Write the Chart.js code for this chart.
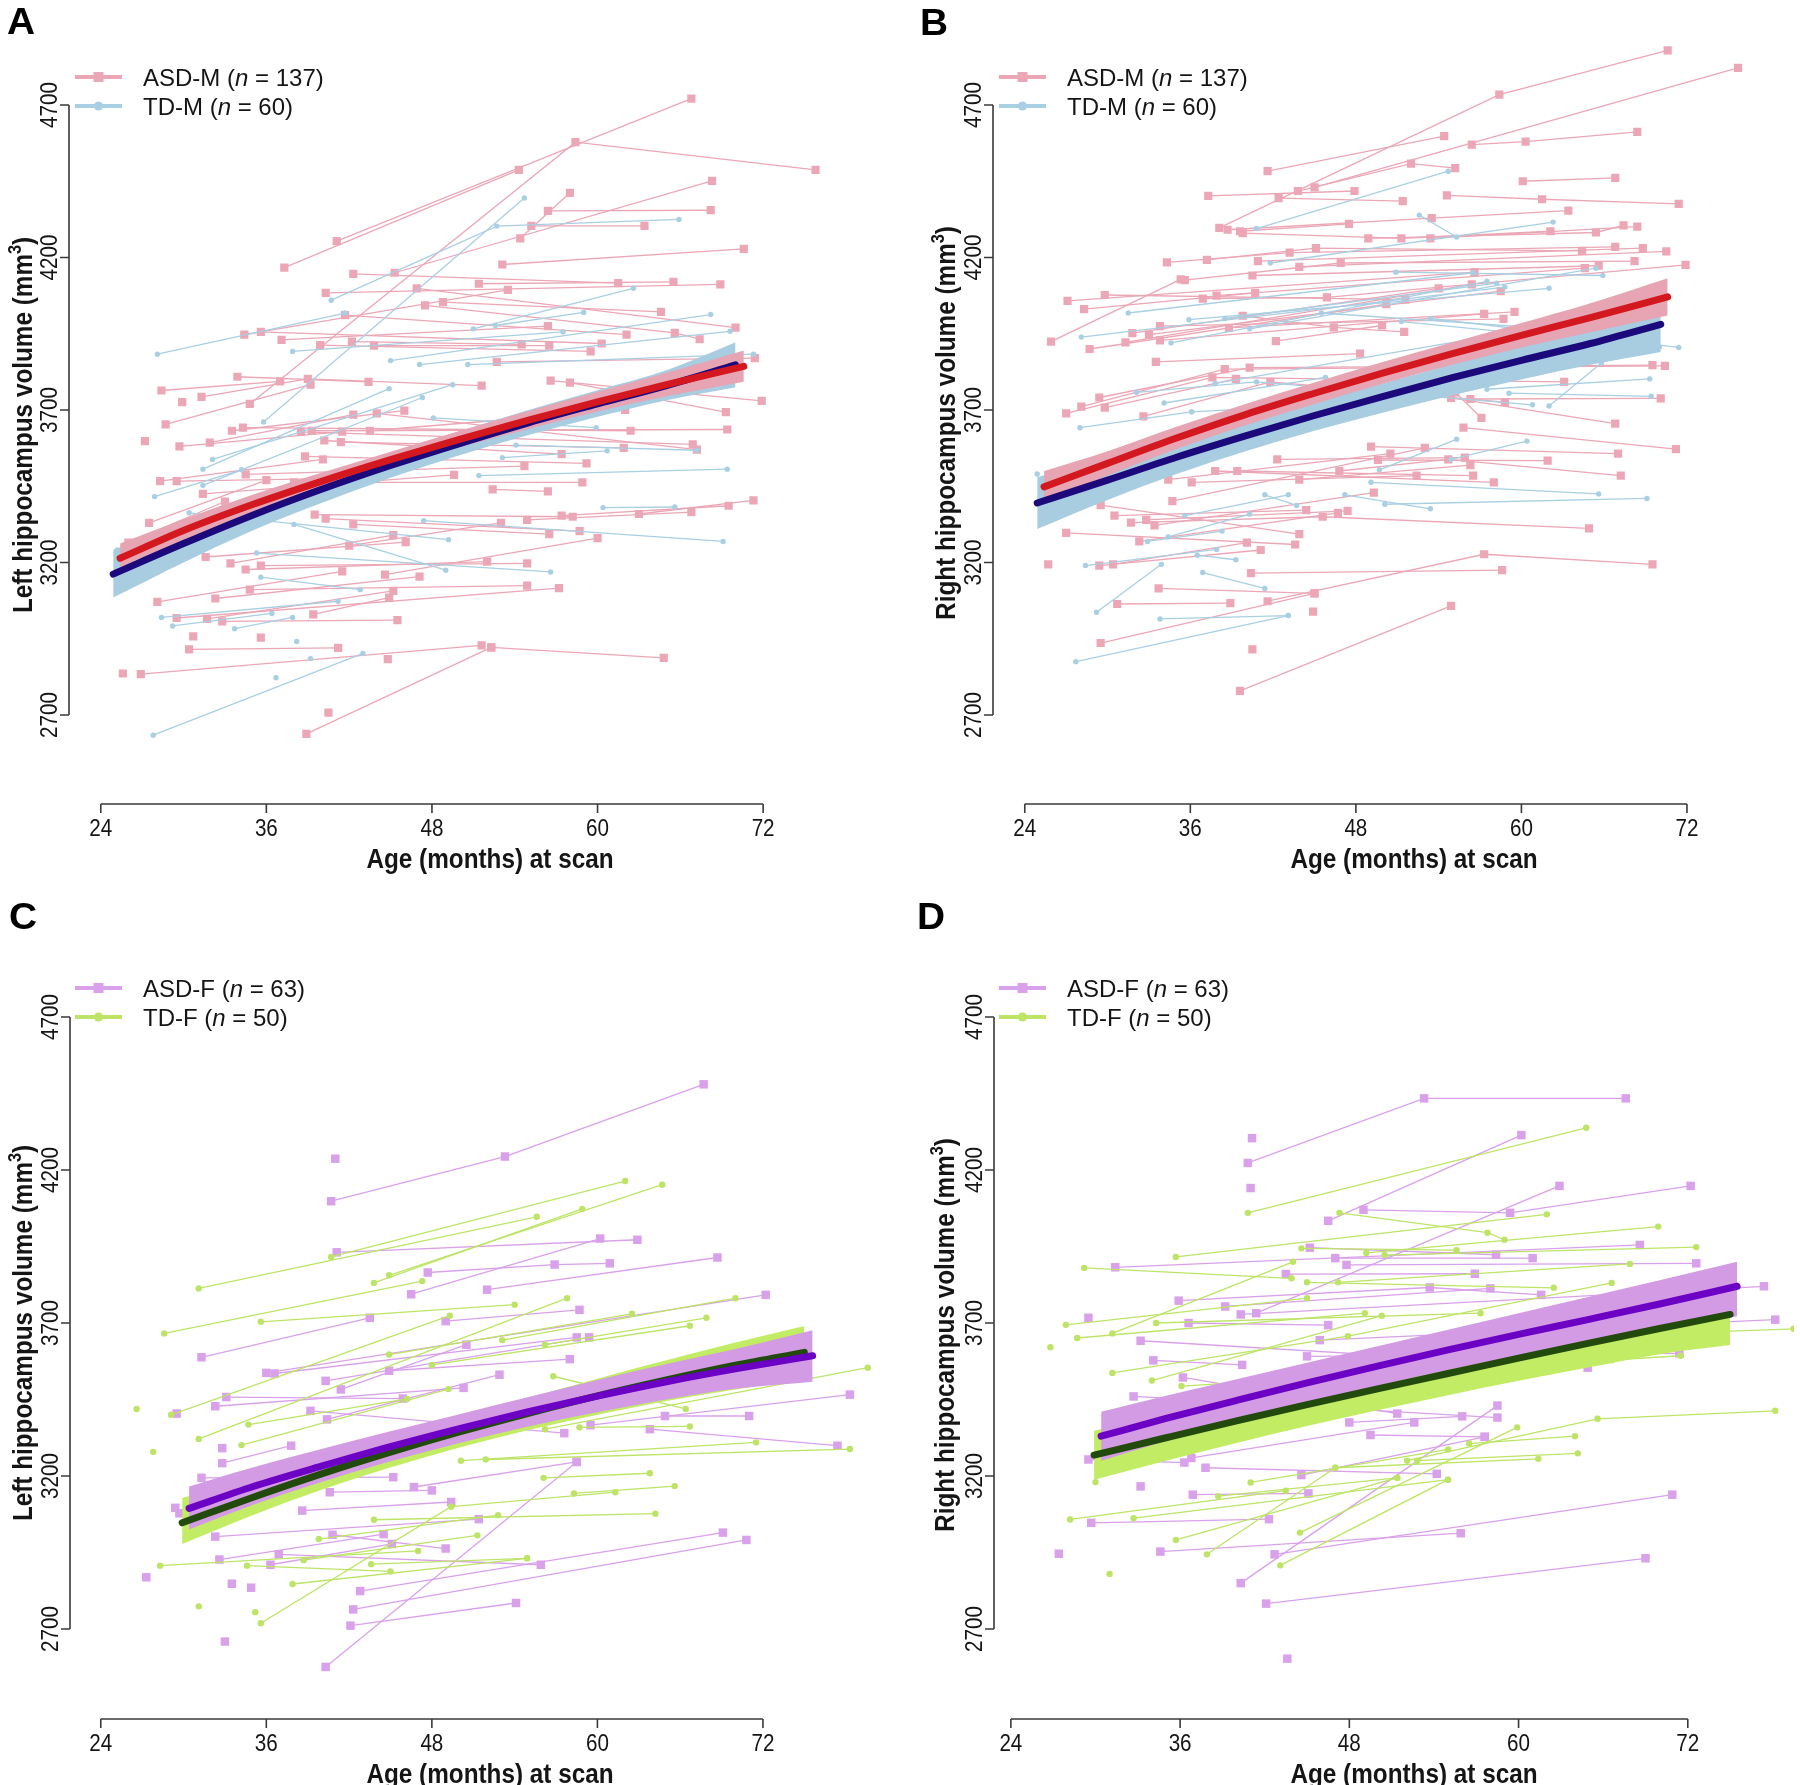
<!DOCTYPE html>
<html>
<head>
<meta charset="utf-8">
<script src="https://cdn.jsdelivr.net/npm/chart.js@4.4.1/dist/chart.umd.min.js"></script>
<style>
  html, body { margin: 0; padding: 0; background: #fff; }
  #wrap { position: relative; width: 1800px; height: 1785px; overflow: hidden; }
  canvas { position: absolute; }
</style>
</head>
<body>
<div id="wrap">
  <canvas id="panelA" width="900" height="893" style="left:0;top:0;width:900px;height:893px"></canvas>
  <canvas id="panelB" width="900" height="893" style="left:900px;top:0;width:900px;height:893px"></canvas>
  <canvas id="panelC" width="900" height="892" style="left:0;top:893px;width:900px;height:892px"></canvas>
  <canvas id="panelD" width="900" height="892" style="left:900px;top:893px;width:900px;height:892px"></canvas>
</div>
<script>
// axis ticks
const xTicks = [24, 36, 48, 60, 72];
const yTicks = [2700, 3200, 3700, 4200, 4700];

// legend labels
const groupsM = ["ASD-M", "TD-M"];
const nM = [137, 60];
const groupsF = ["ASD-F", "TD-F"];
const nF = [63, 50];

// individual trajectories [age (months), volume (mm3)] per subject
// A: left hippocampus, males
const asdLeftM = [
  [[41.1,4254],[66.8,4721]], [[34.8,3720],[58.4,4578],[75.8,4487]], [[37.3,4167],[54.3,4487]],
  [[42.3,4146],[61.5,4116]], [[45.3,4150],[68.3,4451]], [[56.4,4353],[68.2,4355]],
  [[54.4,4263],[58.0,4412]], [[55.2,4304],[63.4,4304]], [[53.1,4177],[70.6,4228]],
  [[51.4,4114],[65.5,4120]], [[40.3,4084],[68.9,4112]], [[46.9,4099],[70.0,3970]],
  [[48.8,4054],[64.6,4022]], [[34.4,3947],[53.5,4094]], [[35.6,3956],[60.3,3918]],
  [[37.1,3930],[56.4,3975]], [[41.7,4011],[62.1,3947]], [[47.5,4043],[65.6,3953],[67.4,3932]],
  [[39.9,3913],[59.5,3892]], [[42.2,3924],[54.5,3915]], [[43.8,3911],[56.5,3911]],
  [[52.7,3858],[71.4,3870]], [[31.3,3743],[39.0,3802],[51.6,3780]], [[28.4,3764],[37.0,3794]],
  [[33.9,3809],[43.4,3792]], [[28.7,3653],[39.2,3783]], [[56.6,3796],[71.9,3730]],
  [[58.0,3790],[69.3,3693]], [[29.7,3581],[41.5,3629]], [[31.9,3593],[42.3,3685]],
  [[33.5,3632],[46.0,3698]], [[34.3,3642],[62.4,3632]], [[39.3,3632],[69.4,3636]],
  [[38.5,3628],[66.9,3587]], [[44.0,3689],[67.2,3570]], [[40.2,3600],[57.4,3555]],
  [[41.4,3595],[61.9,3576]], [[38.8,3548],[59.2,3525]], [[28.3,3467],[40.1,3538]],
  [[29.5,3467],[41.5,3476]], [[31.4,3425],[49.6,3487]], [[34.5,3489],[54.7,3516]],
  [[38.0,3463],[58.9,3463]], [[52.4,3440],[56.4,3433]], [[63.0,3359],[71.3,3404]],
  [[57.4,3354],[69.5,3386]], [[54.9,3340],[66.8,3365]], [[39.5,3357],[58.2,3350]],
  [[40.3,3344],[58.7,3303]], [[42.3,3325],[56.5,3293]], [[31.6,3218],[46.1,3267]],
  [[33.4,3197],[45.2,3290]], [[34.5,3177],[52.0,3203]], [[35.6,3190],[54.9,3197]],
  [[34.8,3111],[54.9,3124]], [[32.3,3082],[47.1,3154]], [[28.1,3071],[41.5,3171]],
  [[29.5,3018],[57.2,3116]], [[31.7,3015],[45.2,3107]], [[32.8,3007],[45.5,3011]],
  [[30.4,2915],[41.2,2920]], [[26.9,2834],[51.6,2928]], [[52.3,2922],[64.8,2887]],
  [[38.9,2638],[52.3,2922]], [[25.6,2836]], [[40.5,2708]], [[44.8,2883]], [[35.6,2954]],
  [[30.7,2958]], [[27.2,3598]], [[29.9,3726]], [[39.4,3030],[44.9,3085]],
  [[26.0,3265],[33.0,3400]], [[27.5,3330],[36.0,3470]], [[43.5,3632],[62.0,3700]],
  [[42.0,3255],[53.0,3330]], [[44.6,3160],[60.0,3280]]
];
const tdLeftM = [
  [[28.1,3883],[41.7,4018]], [[35.8,3661],[54.7,4395]], [[40.7,4060],[52.7,4303],[65.9,4325]],
  [[51.0,3966],[62.6,4099]], [[52.6,3977],[59.0,4020]], [[45.0,3862],[68.2,4013]],
  [[47.1,3849],[69.6,3958]], [[37.9,3892],[57.5,3956]], [[50.6,3849],[71.3,3883]],
  [[32.1,3538],[49.5,3783]], [[31.4,3506],[44.9,3770]], [[27.9,3416],[34.2,3504]],
  [[31.4,3453],[47.3,3741]], [[48.1,3674],[59.9,3642]], [[54.1,3585],[67.2,3568]],
  [[53.1,3544],[60.7,3566]], [[51.4,3485],[69.4,3506]], [[60.4,3380],[65.6,3382]],
  [[47.4,3337],[69.1,3269]], [[30.4,3363],[49.2,3275]], [[38.0,3325],[49.0,3175]],
  [[35.3,3231],[56.6,3169]], [[35.6,3152],[42.8,3111]], [[28.4,3020],[41.2,3073]],
  [[29.2,2992],[36.4,3033]], [[33.7,2983],[37.9,3020]], [[38.2,2941]], [[39.2,2885]],
  [[36.7,2822]], [[27.8,2634],[43.0,2902]], [[25.2,3241]]
];
// B: right hippocampus, males
const asdRightM = [
  [[38.1,4297],[58.4,4734],[70.6,4879]], [[45.0,4430],[75.7,4822]], [[41.6,4483],[54.4,4598]],
  [[56.4,4570],[60.3,4580],[68.4,4612]], [[43.8,4418],[52.0,4508],[55.2,4493]], [[42.4,4395],[51.4,4385]],
  [[37.3,4402],[47.9,4418]], [[60.1,4450],[66.8,4461]], [[54.6,4404],[61.5,4391],[71.4,4376]],
  [[38.7,4291],[53.5,4329],[63.4,4354]], [[39.6,4286],[47.5,4310]], [[39.8,4280],[51.3,4263],[62.1,4286]],
  [[48.9,4263],[65.4,4282],[67.4,4305]], [[53.4,4263],[68.4,4301]], [[34.3,4184],[43.2,4216],[66.8,4235]],
  [[37.2,4192],[45.1,4231],[64.4,4222]], [[40.9,4188],[68.8,4231]], [[43.9,4169],[70.5,4220]],
  [[35.6,4126],[46.9,4182],[68.2,4188]], [[36.9,4065],[45.9,4069],[71.9,4176]], [[37.9,4075],[64.6,4165]],
  [[40.5,4141],[65.6,4173]], [[27.1,4058],[56.6,4152]], [[25.9,3924],[35.3,4128]],
  [[28.3,4031],[40.7,4084]], [[29.8,4077],[51.6,4062]], [[28.7,3900],[50.2,4047]],
  [[31.3,3922],[56.4,4112]], [[31.8,3952],[54.0,4099]], [[33.0,3947],[58.5,4090]],
  [[33.8,3928],[57.3,4015]], [[33.8,3975],[58.7,3999]], [[38.8,3969],[59.5,4022]],
  [[39.8,4009],[46.4,3971],[51.5,3956]], [[42.2,3926],[49.9,3977]], [[33.5,3858],[48.3,3885]],
  [[27.0,3689],[37.6,3807],[63.1,3792]], [[28.1,3711],[38.5,3834],[70.4,3845]], [[29.4,3741],[40.3,3839],[69.5,3847]],
  [[29.8,3708],[39.3,3802]], [[32.6,3679],[41.8,3792],[58.8,3726]], [[56.3,3736],[70.1,3738]],
  [[54.9,3740],[66.8,3655]], [[55.2,3758],[57.1,3674]], [[55.8,3642],[71.2,3572]],
  [[49.1,3580],[67.0,3557]], [[49.6,3536],[61.9,3534]], [[46.8,3500],[54.7,3538],[67.2,3485]],
  [[43.9,3472],[56.3,3519]], [[42.3,3538],[55.9,3544]], [[39.4,3500],[56.5,3485]],
  [[37.8,3500],[58.0,3463]], [[36.1,3463],[52.4,3485]], [[34.4,3472],[50.5,3557]],
  [[34.7,3401],[53.0,3576]], [[32.8,3340],[47.4,3369]], [[33.4,3322],[49.3,3429]],
  [[32.3,3269],[46.7,3363]], [[31.7,3331],[45.6,3350],[64.9,3312]], [[30.5,3354],[44.4,3372]],
  [[29.5,3388],[43.9,3293]], [[27.0,3297],[43.6,3259]], [[25.7,3194]],
  [[29.4,3190],[41.1,3241]], [[30.4,3194],[40.1,3265]], [[33.7,3115],[45.0,3099]],
  [[30.7,3064],[38.9,3067]], [[41.6,3073],[57.3,3227],[69.5,3194]], [[40.4,3165],[58.6,3175]],
  [[44.9,3039]], [[29.5,2936],[45.0,3099]], [[40.5,2915]], [[39.6,2779],[54.9,3058]]
];
const tdRightM = [
  [[40.8,4295],[54.7,4483]], [[52.6,4339],[55.3,4267]], [[41.8,4182],[62.3,4316]],
  [[50.9,4152],[65.9,4141]], [[31.5,4018],[56.5,4150]], [[28.1,3939],[58.8,4103]],
  [[35.9,3996],[62.0,4099]], [[34.6,3920],[57.5,4122]], [[38.5,4000],[58.2,4116]],
  [[40.3,3966],[65.4,4165]], [[45.5,4018],[63.7,3962]], [[51.3,3990],[70.0,3907]],
  [[53.4,4000],[71.4,3905]], [[32.1,3758],[40.8,3792],[60.8,3717]], [[34.1,3723],[45.8,3807]],
  [[36.1,3694],[49.6,3726]], [[37.8,3787],[58.9,3952]], [[57.5,3768],[69.3,3802]],
  [[59.1,3755],[69.4,3745]], [[62.0,3713],[65.8,3854]], [[28.0,3642],[36.1,3694]],
  [[54.9,3538],[60.4,3598]], [[49.7,3504],[55.3,3604]], [[49.1,3463],[65.6,3425]],
  [[50.1,3391],[69.1,3410]], [[47.2,3422],[53.4,3376]], [[41.4,3422],[43.7,3387]],
  [[35.6,3354],[43.1,3422]], [[34.4,3284],[40.3,3359]], [[32.9,3269],[38.3,3303]],
  [[28.4,3190],[37.9,3243]], [[36.5,3224],[39.3,3209]], [[36.9,3167],[41.4,3115]],
  [[29.2,3037],[33.9,3194]], [[33.8,3015],[43.1,3026]], [[27.7,2875],[43.1,3026]],
  [[24.9,3490]]
];
// C: left hippocampus, females
const asdLeftF = [
  [[40.7,4098],[53.3,4244],[67.7,4480]], [[41.0,4237]], [[41.1,3931],[62.9,3972]],
  [[46.5,3794],[60.2,3976]], [[47.7,3865],[56.9,3891],[60.9,3895]], [[52.0,3809],[68.7,3914]],
  [[31.3,3588],[43.5,3717]], [[49.0,3706],[58.7,3743]], [[36.0,3537],[72.2,3792]],
  [[36.6,3535],[58.5,3653]], [[41.4,3483],[50.5,3629]], [[40.3,3511],[59.4,3653]],
  [[44.9,3544],[58.0,3582]], [[33.1,3458],[45.9,3453]], [[32.3,3428],[50.3,3488]],
  [[29.5,3404]], [[39.2,3413],[57.6,3340]], [[40.4,3385],[52.9,3531]],
  [[64.9,3396],[71.0,3396]], [[63.8,3353],[77.4,3299]], [[59.5,3366],[78.3,3466]],
  [[32.8,3291]], [[32.8,3242],[37.8,3299]], [[31.3,3194],[45.2,3196]],
  [[40.6,3147],[48.0,3153]], [[46.7,3164],[58.5,3246]], [[29.4,3096]], [[29.7,3078]],
  [[38.6,3087],[49.4,3115]], [[32.3,3002],[51.4,3059]], [[40.8,3008],[49.0,2963]],
  [[32.6,2927],[44.5,3010]], [[36.9,2944],[55.9,2910]], [[42.8,2824],[69.1,3015]],
  [[42.3,2764],[70.8,2991]], [[42.1,2711],[54.1,2785]], [[40.3,2576],[58.5,3246]],
  [[33.0,2659]], [[27.3,2869]], [[33.5,2848]], [[34.9,2835]], [[36.3,2910],[45.1,2978]]
];
const tdLeftF = [
  [[40.7,3916],[62.0,4164]], [[44.9,3856],[64.7,4152]], [[31.1,3813],[55.6,4047]],
  [[43.8,3831],[58.9,4073]], [[28.6,3666],[47.3,3837]], [[35.6,3704],[54.0,3760]],
  [[53.1,3644],[70.0,3781]], [[56.2,3629],[67.9,3717]], [[44.9,3597],[62.5,3730]],
  [[48.0,3563],[66.7,3691]], [[29.1,3400],[49.3,3724]], [[31.1,3321],[57.8,3781]],
  [[34.2,3301],[49.2,3484]], [[34.7,3368],[46.2,3452]], [[58.7,3359],[66.7,3362]],
  [[56.8,3526],[66.4,3419]], [[50.1,3250],[71.5,3310]], [[51.9,3254],[78.3,3288]],
  [[56.2,3353],[79.6,3554]], [[27.8,3279]], [[26.6,3419]], [[56.1,3194],[63.8,3209]],
  [[58.3,3143],[65.6,3167]], [[49.4,3100],[61.3,3147]], [[43.8,3057],[64.2,3077]],
  [[39.8,2994],[52.8,3072]], [[28.3,2907],[47.0,2955]], [[38.7,2925],[51.3,3006]],
  [[37.9,2847],[54.9,2931]], [[34.6,2907],[45.0,2888]], [[43.6,2912],[54.9,2931]],
  [[35.6,2719],[49.4,3100]], [[31.1,2774]], [[35.2,2755]]
];
// D: right hippocampus, females
const asdRightF = [
  [[40.8,4223],[53.3,4434],[67.6,4434]], [[41.0,4141]], [[41.1,4304]],
  [[46.5,4034],[60.2,4314]], [[49.0,4070],[59.4,4060],[72.2,4148]], [[41.4,3732],[62.9,4148]],
  [[31.4,3882],[68.6,3955]], [[45.2,3946],[58.4,3923]], [[47.0,3912],[61.0,3912]],
  [[47.8,3890],[72.6,3895]], [[43.5,3860],[56.9,3861]], [[35.9,3773],[53.7,3816],[61.6,3792]],
  [[39.2,3754],[58.0,3813]], [[40.3,3728],[77.4,3820]], [[36.6,3700],[46.5,3693]],
  [[45.9,3644],[78.2,3711]], [[33.2,3642],[64.9,3554]], [[29.5,3717]],
  [[34.1,3578],[40.4,3563]], [[45.0,3591],[71.4,3601]], [[32.7,3460],[58.5,3391]],
  [[36.2,3522],[51.4,3404]], [[48.0,3375],[56.0,3395]], [[36.8,3259],[52.6,3375]],
  [[40.3,2850],[58.5,3430]], [[49.5,3334],[57.6,3328]], [[29.5,3254],[36.3,3244]],
  [[37.8,3227],[54.2,3207]], [[44.6,3203],[57.6,3328]], [[33.2,3166]],
  [[36.9,3139],[45.1,3143]], [[29.7,3047],[42.3,3059]], [[42.7,2944],[70.9,3139]],
  [[34.6,2953],[55.9,3013]], [[42.1,2783],[69.0,2931]], [[27.4,2946]], [[43.6,2603]]
];
const tdRightF = [
  [[40.8,4060],[64.8,4338]], [[47.3,4060],[57.8,3995],[59.0,3972]], [[35.7,3916],[62.0,4055]],
  [[44.6,3944],[55.6,3938]], [[49.2,3929],[69.9,4015]], [[29.2,3880],[43.9,3846]],
  [[45.0,3833],[62.5,3815]], [[47.2,3833],[67.9,3893]], [[50.5,3922],[72.6,3948]],
  [[34.3,3700],[57.3,3732]], [[27.9,3694],[45.0,3781]], [[28.7,3651],[49.1,3732]],
  [[31.2,3666],[44.0,3900]], [[31.2,3537],[47.9,3657],[66.6,3831]], [[34.0,3512],[50.3,3724]],
  [[36.1,3494],[71.5,3593]], [[45.5,3522],[66.6,3578]], [[52.1,3250],[65.6,3387],[78.2,3413]],
  [[52.8,3250],[64.2,3274]], [[56.5,3306],[64.0,3330]], [[44.5,3015],[59.9,3359]],
  [[47.0,3227],[61.4,3256]], [[41.0,3179],[55.0,3287]], [[38.7,3134],[51.4,3194]],
  [[28.2,3058],[43.5,3152]], [[32.7,3062],[55.0,3188]], [[35.7,2991],[51.4,3194]],
  [[37.9,2944],[47.0,3227]], [[43.1,2908],[55.0,3188]], [[31.0,2880]], [[26.8,3621]],
  [[30.0,3180]], [[65.3,3657],[79.5,3681]]
];

// fitted trajectories with confidence bands
const asdFitAgeA = [25.4, 30, 35, 40, 45, 50, 55, 60, 65, 70.6];
const asdFitA = [3214, 3305, 3390, 3466, 3537, 3604, 3667, 3727, 3783, 3843];
const asdLoA  = [3170, 3270, 3360, 3440, 3512, 3578, 3638, 3695, 3745, 3793];
const asdHiA  = [3262, 3342, 3422, 3494, 3563, 3631, 3697, 3760, 3822, 3895];
const tdFitAgeA = [24.9, 30, 35, 40, 45, 50, 55, 60, 65, 70];
const tdFitA = [3162, 3262, 3355, 3440, 3518, 3590, 3658, 3720, 3780, 3848];
const tdLoA  = [3085, 3200, 3305, 3395, 3478, 3552, 3618, 3678, 3732, 3775];
const tdHiA  = [3242, 3325, 3405, 3485, 3560, 3630, 3700, 3765, 3830, 3922];

const asdFitAgeB = [25.4, 30, 35, 40, 45, 50, 55, 60, 65, 70.6];
const asdFitB = [3448, 3525, 3608, 3685, 3755, 3822, 3885, 3945, 4003, 4071];
const asdLoB  = [3398, 3485, 3572, 3650, 3720, 3787, 3848, 3905, 3955, 4010];
const asdHiB  = [3500, 3565, 3645, 3720, 3790, 3858, 3922, 3985, 4050, 4132];
const tdFitAgeB = [24.9, 30, 35, 40, 45, 50, 55, 60, 65, 70.1];
const tdFitB = [3395, 3470, 3545, 3615, 3682, 3745, 3806, 3863, 3918, 3981];
const tdLoB  = [3310, 3405, 3490, 3565, 3632, 3692, 3748, 3800, 3848, 3890];
const tdHiB  = [3480, 3535, 3600, 3663, 3726, 3788, 3850, 3910, 3970, 4049];

const asdFitAgeC = [30.4, 35, 40, 45, 50, 55, 60, 65, 70, 75.6];
const asdFitC = [3094, 3165, 3232, 3296, 3355, 3410, 3461, 3508, 3550, 3593];
const asdLoC  = [3025, 3105, 3180, 3248, 3308, 3362, 3408, 3450, 3485, 3508];
const asdHiC  = [3166, 3228, 3288, 3346, 3402, 3458, 3514, 3566, 3615, 3676];
const tdFitAgeC = [29.9, 35, 40, 45, 50, 55, 60, 65, 70, 75];
const tdFitC = [3047, 3130, 3207, 3278, 3344, 3405, 3462, 3514, 3562, 3604];
const tdLoC  = [2978, 3072, 3155, 3228, 3293, 3350, 3400, 3445, 3483, 3515];
const tdHiC  = [3128, 3196, 3262, 3328, 3392, 3455, 3518, 3578, 3636, 3690];

const asdFitAgeD = [30.4, 35, 40, 45, 50, 55, 60, 65, 70, 75.5];
const asdFitD = [3330, 3388, 3447, 3504, 3559, 3612, 3663, 3712, 3762, 3820];
const asdLoD  = [3250, 3314, 3378, 3438, 3494, 3546, 3594, 3638, 3680, 3722];
const asdHiD  = [3410, 3462, 3516, 3570, 3624, 3678, 3732, 3786, 3840, 3900];
const tdFitAgeD = [29.9, 35, 40, 45, 50, 55, 60, 65, 70, 75];
const tdFitD = [3268, 3325, 3380, 3433, 3485, 3535, 3585, 3634, 3682, 3728];
const tdLoD  = [3188, 3250, 3308, 3363, 3415, 3464, 3511, 3555, 3598, 3628];
const tdHiD  = [3348, 3400, 3452, 3503, 3555, 3606, 3659, 3713, 3766, 3828];

// colours
const C = {
  asdM: "#eba7b6", asdMBand: "#e7a5b4", asdMFit: "#d3181f",
  tdM: "#a9cfe3", tdMBand: "#a8cce0", tdMFit: "#1c0a7c",
  asdF: "#d9a1ea", asdFBand: "#d49be5", asdFFit: "#6c02c4",
  tdF: "#bde466", tdFBand: "#c1ec63", tdFFit: "#234a0d",
  axis: "#3a3a3a", text: "#151515"
};
const FONT = '"Liberation Sans", Arial, Helvetica, sans-serif';

function pts(ages, vals) {
  return ages.map((a, i) => ({ x: a, y: vals[i] }));
}

function subjectSets(subjects, color, style, radius) {
  return subjects.map((s) => ({
    data: s.map((p) => ({ x: p[0], y: p[1] })),
    showLine: true,
    borderColor: color,
    borderWidth: 1.3,
    pointStyle: style,
    pointRadius: radius,
    pointBackgroundColor: color,
    pointBorderWidth: 0,
    fill: false,
  }));
}

function bandSets(ages, lo, hi, color) {
  return [
    { data: pts(ages, hi), showLine: true, borderWidth: 0, borderColor: "rgba(0,0,0,0)",
      pointRadius: 0, fill: false, cubicInterpolationMode: "monotone" },
    { data: pts(ages, lo), showLine: true, borderWidth: 0, borderColor: "rgba(0,0,0,0)",
      pointRadius: 0, fill: "-1", backgroundColor: color, cubicInterpolationMode: "monotone" },
  ];
}

function fitSet(ages, vals, color) {
  return { data: pts(ages, vals), showLine: true, borderColor: color, borderWidth: 7,
    borderCapStyle: "round", pointRadius: 0, fill: false, cubicInterpolationMode: "monotone" };
}

// draw a list of text runs along a baseline, centered at (x,y)
function drawRuns(ctx, runs, x, y, rot, sx, align) {
  ctx.save();
  ctx.translate(x, y);
  if (rot) ctx.rotate(rot);
  ctx.scale(sx, 1);
  ctx.textBaseline = "alphabetic";
  ctx.textAlign = "left";
  let w = 0;
  for (const r of runs) { ctx.font = r.font; w += ctx.measureText(r.t).width; }
  let cx = align === "left" ? 0 : -w / 2;
  for (const r of runs) {
    ctx.font = r.font;
    ctx.fillText(r.t, cx, r.dy || 0);
    cx += ctx.measureText(r.t).width;
  }
  ctx.restore();
}

const rPlot = {
  id: "rPlot",
  beforeDatasetsDraw(chart, args, o) {
    const { ctx, scales: { x, y } } = chart;
    const g = o.geo;
    const yb = chart.chartArea.bottom;
    const xl = chart.chartArea.left;
    ctx.save();
    ctx.strokeStyle = C.axis;
    ctx.lineWidth = 1.6;
    ctx.beginPath();
    ctx.moveTo(x.getPixelForValue(xTicks[0]), yb);
    ctx.lineTo(x.getPixelForValue(xTicks[xTicks.length - 1]), yb);
    for (const t of xTicks) {
      const px = x.getPixelForValue(t);
      ctx.moveTo(px, yb);
      ctx.lineTo(px, yb + 9);
    }
    ctx.moveTo(xl, y.getPixelForValue(yTicks[0]));
    ctx.lineTo(xl, y.getPixelForValue(yTicks[yTicks.length - 1]));
    for (const t of yTicks) {
      const py = y.getPixelForValue(t);
      ctx.moveTo(xl, py);
      ctx.lineTo(xl - 9, py);
    }
    ctx.stroke();
    ctx.fillStyle = C.text;
    const tf = "24px " + FONT;
    for (const t of xTicks) {
      drawRuns(ctx, [{ t: String(t), font: tf }], x.getPixelForValue(t), yb + 32, 0, 0.86);
    }
    for (const t of yTicks) {
      drawRuns(ctx, [{ t: String(t), font: tf }], xl - 12, y.getPixelForValue(t), -Math.PI / 2, 0.86);
    }
    const bf = "bold 27px " + FONT;
    drawRuns(ctx, [{ t: "Age (months) at scan", font: bf }], g.titleX, yb + 64, 0, 0.9);
    drawRuns(ctx, [
      { t: o.yTitle + " hippocampus volume (mm", font: bf },
      { t: "3", font: "bold 18px " + FONT, dy: -11 },
      { t: ")", font: bf },
    ], g.ytX, g.ytY, -Math.PI / 2, 0.9);
    ctx.restore();
  },
  afterDraw(chart, args, o) {
    const { ctx } = chart;
    const g = o.geo;
    ctx.save();
    ctx.fillStyle = "#000";
    drawRuns(ctx, [{ t: o.letter, font: "bold 36px " + FONT }], g.letterX, g.letterY, 0, 1.08, "left");
    o.legend.forEach((item, i) => {
      const ly = g.legY + i * 29;
      ctx.strokeStyle = item.color;
      ctx.lineWidth = 4;
      ctx.beginPath();
      ctx.moveTo(g.legX, ly);
      ctx.lineTo(g.legX + 47, ly);
      ctx.stroke();
      ctx.fillStyle = item.color;
      const mx = g.legX + 23.5;
      if (item.style === "rect") {
        ctx.fillRect(mx - 5, ly - 5, 10, 10);
      } else {
        ctx.beginPath();
        ctx.arc(mx, ly, 4.6, 0, Math.PI * 2);
        ctx.fill();
      }
      ctx.fillStyle = C.text;
      drawRuns(ctx, [
        { t: item.label + " (", font: "24px " + FONT },
        { t: "n", font: "italic 24px " + FONT },
        { t: " = " + item.n + ")", font: "24px " + FONT },
      ], g.legX + 68, ly + 8.5, 0, 1, "left");
    });
    ctx.restore();
  },
};

function buildPanel(id, g, asd, td, fits, legend, letter, yTitle) {
  const W = 900;
  const kx = (g.x72 - g.x24) / 48;
  const ky = (g.y2700 - g.y4700) / 2000;
  const canvas = document.getElementById(id);
  const H = canvas.height;
  const sets = [
    ...subjectSets(asd.data, asd.color, "rect", asd.r),
    ...subjectSets(td.data, td.color, "circle", td.r),
    ...bandSets(fits.tdAge, fits.tdLo, fits.tdHi, fits.tdBand),
    ...bandSets(fits.asdAge, fits.asdLo, fits.asdHi, fits.asdBand),
    fitSet(fits.tdAge, fits.tdFit, fits.tdLine),
    fitSet(fits.asdAge, fits.asdFit, fits.asdLine),
  ];
  // later datasets are drawn on top
  sets.forEach((s, i) => { s.order = -i; });
  return new Chart(canvas, {
    type: "scatter",
    data: { datasets: sets },
    options: {
      responsive: false,
      animation: false,
      events: [],
      layout: { padding: { left: g.left, right: 0, top: g.top, bottom: H - g.bottom } },
      scales: {
        x: { type: "linear", display: false,
             min: 24 - (g.x24 - g.left) / kx, max: 24 + (W - g.x24) / kx },
        y: { type: "linear", display: false,
             min: 2700 - (g.bottom - g.y2700) / ky, max: 4700 + (g.y4700 - g.top) / ky },
      },
      plugins: {
        legend: { display: false },
        tooltip: { enabled: false },
        rPlot: { geo: g, legend, letter, yTitle },
      },
    },
    plugins: [rPlot],
  });
}

const legendM = [
  { label: groupsM[0], n: nM[0], color: C.asdM, style: "rect" },
  { label: groupsM[1], n: nM[1], color: C.tdM, style: "circle" },
];
const legendF = [
  { label: groupsF[0], n: nF[0], color: C.asdF, style: "rect" },
  { label: groupsF[1], n: nF[1], color: C.tdF, style: "circle" },
];

buildPanel("panelA",
  { left: 69, top: 36, bottom: 804, x24: 101, x72: 768, y4700: 105, y2700: 715,
    letterX: 7, letterY: 34, legX: 75, legY: 77, titleX: 490, ytX: 32, ytY: 425 },
  { data: asdLeftM, color: C.asdM, r: 5.8 }, { data: tdLeftM, color: C.tdM, r: 2.7 },
  { asdAge: asdFitAgeA, asdFit: asdFitA, asdLo: asdLoA, asdHi: asdHiA, asdBand: C.asdMBand, asdLine: C.asdMFit,
    tdAge: tdFitAgeA, tdFit: tdFitA, tdLo: tdLoA, tdHi: tdHiA, tdBand: C.tdMBand, tdLine: C.tdMFit },
  legendM, "A", "Left");

buildPanel("panelB",
  { left: 93, top: 36, bottom: 804, x24: 125, x72: 792, y4700: 105, y2700: 715,
    letterX: 20, letterY: 35, legX: 99, legY: 77, titleX: 514, ytX: 55, ytY: 423 },
  { data: asdRightM, color: C.asdM, r: 5.8 }, { data: tdRightM, color: C.tdM, r: 2.7 },
  { asdAge: asdFitAgeB, asdFit: asdFitB, asdLo: asdLoB, asdHi: asdHiB, asdBand: C.asdMBand, asdLine: C.asdMFit,
    tdAge: tdFitAgeB, tdFit: tdFitB, tdLo: tdLoB, tdHi: tdHiB, tdBand: C.tdMBand, tdLine: C.tdMFit },
  legendM, "B", "Right");

buildPanel("panelC",
  { left: 70, top: 40, bottom: 826, x24: 101, x72: 768, y4700: 124, y2700: 736,
    letterX: 9, letterY: 36, legX: 75, legY: 95, titleX: 490, ytX: 32, ytY: 440 },
  { data: asdLeftF, color: C.asdF, r: 6 }, { data: tdLeftF, color: C.tdF, r: 3.2 },
  { asdAge: asdFitAgeC, asdFit: asdFitC, asdLo: asdLoC, asdHi: asdHiC, asdBand: C.asdFBand, asdLine: C.asdFFit,
    tdAge: tdFitAgeC, tdFit: tdFitC, tdLo: tdLoC, tdHi: tdHiC, tdBand: C.tdFBand, tdLine: C.tdFFit },
  legendF, "C", "Left");

buildPanel("panelD",
  { left: 94, top: 40, bottom: 826, x24: 111, x72: 793, y4700: 124, y2700: 736,
    letterX: 17, letterY: 36, legX: 99, legY: 95, titleX: 514, ytX: 54, ytY: 442 },
  { data: asdRightF, color: C.asdF, r: 6 }, { data: tdRightF, color: C.tdF, r: 3.2 },
  { asdAge: asdFitAgeD, asdFit: asdFitD, asdLo: asdLoD, asdHi: asdHiD, asdBand: C.asdFBand, asdLine: C.asdFFit,
    tdAge: tdFitAgeD, tdFit: tdFitD, tdLo: tdLoD, tdHi: tdHiD, tdBand: C.tdFBand, tdLine: C.tdFFit },
  legendF, "D", "Right");
</script>
</body>
</html>
